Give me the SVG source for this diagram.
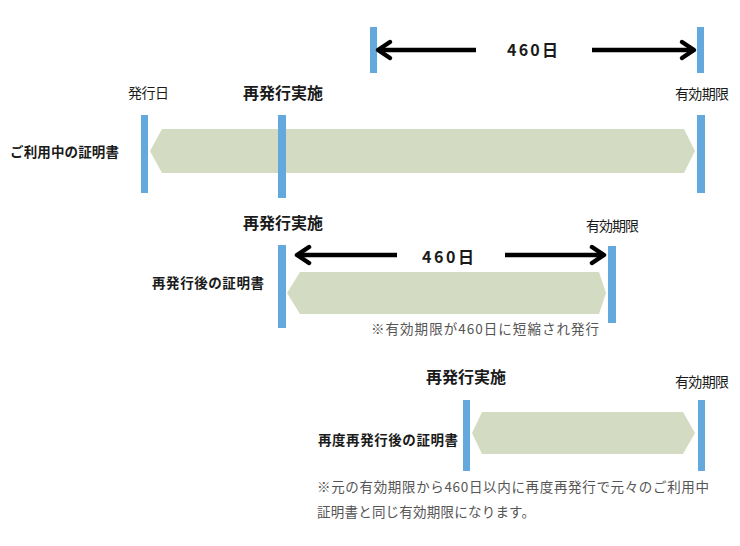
<svg xmlns="http://www.w3.org/2000/svg" width="740" height="546" viewBox="0 0 740 546">
<defs>
<style>
.bar{fill:#64a9dd}
.band{fill:#d3dcc3}
text{font-family:"Noto Sans CJK JP","Noto Sans",sans-serif;fill:#1a1a1a}
.lbl{font-size:14px}
.blbl{font-size:13.5px;font-weight:bold}
.head{font-size:16px;font-weight:bold}
.note{font-size:13.5px;fill:#555}
.arr{stroke:#000;stroke-width:4.5;fill:none}
</style>
<marker id="chev" markerUnits="userSpaceOnUse" viewBox="-16 -12 20 24" refX="0" refY="0" markerWidth="20" markerHeight="24" orient="auto-start-reverse">
<path d="M-12,-8 L0,0 L-12,8" fill="none" stroke="#000" stroke-width="4.5" stroke-linecap="round" stroke-linejoin="round"/>
</marker>
</defs>
<rect width="740" height="546" fill="#fff"/>

<g id="top-span">
<rect class="bar" x="370" y="27" width="7" height="46"/>
<rect class="bar" x="697" y="27" width="7" height="46"/>
<text class="head" x="507" y="56" textLength="51">460日</text>
</g>

<g id="row1">
<text class="lbl" x="128" y="98" textLength="41">発行日</text>
<text class="head" x="243" y="99" textLength="80">再発行実施</text>
<text class="lbl" x="675" y="99" textLength="54">有効期限</text>
<text class="blbl" x="10" y="157" textLength="109">ご利用中の証明書</text>
<polygon class="band" points="150,151 162,129 684,129 695,151 684,173 162,173"/>
<rect class="bar" x="141" y="115" width="7" height="78"/>
<rect class="bar" x="278" y="115" width="8" height="83"/>
<rect class="bar" x="697" y="115" width="8" height="78"/>
</g>

<g id="row2">
<text class="head" x="243" y="229" textLength="80">再発行実施</text>
<text class="lbl" x="586" y="231" textLength="53">有効期限</text>
<text class="head" x="422" y="263" textLength="52">460日</text>
<text class="blbl" x="152" y="288" textLength="112">再発行後の証明書</text>
<polygon class="band" points="287,293 300,272 599,272 606,293 599,314 300,314"/>
<rect class="bar" x="278" y="245" width="8" height="83"/>
<rect class="bar" x="608" y="246" width="8" height="77"/>
<text class="note" x="371" y="334" textLength="228">※有効期限が460日に短縮され発行</text>
</g>

<g id="row3">
<text class="head" x="426" y="383" textLength="80">再発行実施</text>
<text class="lbl" x="675" y="387" textLength="54">有効期限</text>
<text class="blbl" x="318" y="445" textLength="140">再度再発行後の証明書</text>
<polygon class="band" points="472,433 482,412 683,412 695,433 683,454 482,454"/>
<rect class="bar" x="463" y="400" width="7" height="71"/>
<rect class="bar" x="698" y="400" width="7" height="71"/>
<text class="note" x="317" y="492" textLength="392">※元の有効期限から460日以内に再度再発行で元々のご利用中</text>
<text class="note" x="317" y="517" textLength="218">証明書と同じ有効期限になります。</text>
</g>

<g id="connectors">
<line class="arr" x1="476" y1="50" x2="378" y2="50" marker-end="url(#chev)"/>
<line class="arr" x1="592" y1="50" x2="694" y2="50" marker-end="url(#chev)"/>
<line class="arr" x1="397" y1="255" x2="297" y2="255" marker-end="url(#chev)"/>
<line class="arr" x1="505" y1="255" x2="604" y2="255" marker-end="url(#chev)"/>
</g>
</svg>
